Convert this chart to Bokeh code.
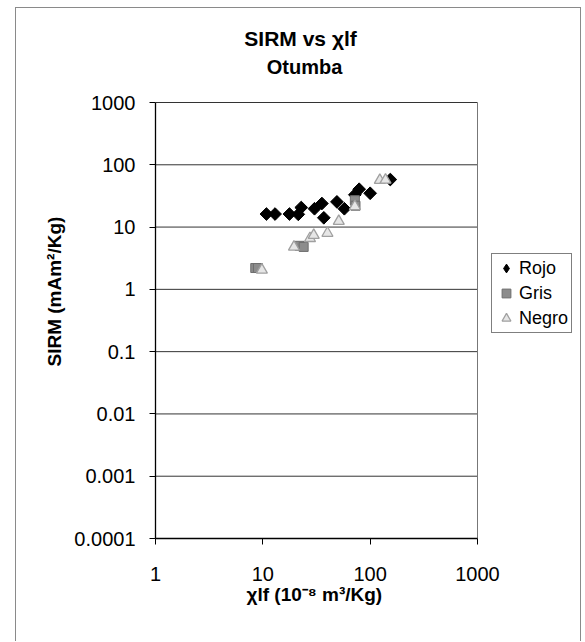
from bokeh.plotting import figure
from bokeh.models import FixedTicker, CustomJSTickFormatter, Legend, LegendItem, Title, Label, Range1d
from bokeh.embed import file_html
from bokeh.resources import INLINE
import math

# ---- data ----
rojo_x = [10.8, 13.0, 17.7, 21.4, 22.8, 30.3, 35.5, 37.0, 49.0, 57.5, 72.0, 79.0, 100.0, 154.0]
rojo_y = [16.2, 16.2, 16.2, 16.0, 20.6, 19.7, 23.9, 14.1, 25.4, 19.7, 33.0, 40.5, 34.9, 58.0]

gris_x = [8.5, 9.0, 22.0, 24.0, 72.0, 73.0]
gris_y = [2.2, 2.2, 5.0, 4.8, 27.0, 22.0]

negro_x = [9.8, 19.5, 27.5, 29.8, 40.0, 51.0, 72.0, 123.0, 139.0]
negro_y = [2.05, 4.8, 6.6, 7.4, 8.0, 12.4, 21.5, 56.5, 57.0]

x_ticks = [1, 10, 100, 1000]
y_ticks = [0.0001, 0.001, 0.01, 0.1, 1, 10, 100, 1000]

title_1 = "SIRM  vs χlf"
title_2 = "Otumba"
x_label = "χlf (10⁻⁸ m³/Kg)"
y_label = "SIRM (mAm²/Kg)"
series_names = ["Rojo", "Gris", "Negro"]

FONT = "Liberation Sans"

# layout (pixels): plot box 322 x 436, a 105 px strip on its right for the legend
# and a 94 px strip above it for the titles
PLOT_W, LEGEND_W = 322, 105
PLOT_H, TITLE_H = 436, 94
x_end = x_ticks[-1] * (x_ticks[-1] / x_ticks[0]) ** (LEGEND_W / PLOT_W)
y_end = y_ticks[-1] * (y_ticks[-1] / y_ticks[0]) ** (TITLE_H / PLOT_H)

p = figure(width=566, height=634, x_axis_type="log", y_axis_type="log",
           x_range=Range1d(x_ticks[0], x_end), y_range=Range1d(y_ticks[0], y_end),
           output_backend="svg", toolbar_location=None,
           min_border_left=139, min_border_right=0, min_border_top=0, min_border_bottom=104,
           margin=(7, 0, 0, 15),
           styles={"border-top": "1px solid #8a8a8a", "border-left": "1px solid #8a8a8a",
                   "border-right": "1px solid #8a8a8a"})
p.title = None
p.background_fill_color = "white"
p.border_fill_color = "white"
p.outline_line_color = None

fmt = CustomJSTickFormatter(code="return Number(tick.toPrecision(6)).toString();")
for ax, ticks in ((p.xaxis[0], x_ticks), (p.yaxis[0], y_ticks)):
    ax.ticker = FixedTicker(ticks=ticks)
    ax.bounds = (ticks[0], ticks[-1])
    ax.formatter = fmt
    ax.axis_line_color = "black"
    ax.axis_line_width = 1.3
    ax.major_tick_line_color = "black"
    ax.major_tick_out = 6
    ax.major_tick_in = 0
    ax.minor_tick_line_color = None
    ax.major_label_text_font = FONT
    ax.major_label_text_font_size = "20px"
    ax.major_label_text_color = "black"

p.xaxis.major_label_standoff = 22
p.yaxis.major_label_standoff = 14

p.xgrid.visible = False
p.ygrid.visible = False

# horizontal grid lines across the plot box and its right edge
n = len(y_ticks)
p.segment(x0=[x_ticks[0]] * n, y0=y_ticks, x1=[x_ticks[-1]] * n, y1=y_ticks,
          line_color="#333333", line_width=1)
p.segment(x0=[x_ticks[-1]], y0=[y_ticks[0]], x1=[x_ticks[-1]], y1=[y_ticks[-1]],
          line_color="#777777", line_width=1)

# diamonds: a diamond marker (also used as legend key) under 45-degree squares
r1_key = p.scatter(rojo_x, rojo_y, marker="diamond", size=11,
                   fill_color="black", line_color="black")
r1 = p.scatter(rojo_x, rojo_y, marker="square", size=9, angle=math.pi / 4,
               fill_color="black", line_color="black")
r2 = p.scatter(gris_x, gris_y, marker="square", size=9,
               fill_color="#8c8c8c", line_color="#6e6e6e")
r3 = p.scatter(negro_x, negro_y, marker="triangle", size=11,
               fill_color="#e6e6e6", line_color="#a0a0a0", line_width=1.3)

legend = Legend(items=[LegendItem(label=series_names[0], renderers=[r1_key]),
                       LegendItem(label=series_names[1], renderers=[r2]),
                       LegendItem(label=series_names[2], renderers=[r3])],
                location=(336, 205))
legend.label_text_font = FONT
legend.label_text_font_size = "18px"
legend.label_text_color = "black"
legend.border_line_color = "black"
legend.border_line_width = 1
legend.background_fill_color = "white"
legend.background_fill_alpha = 1
legend.padding = 3
legend.spacing = 3
legend.margin = 0
legend.glyph_width = 22
legend.glyph_height = 22
legend.label_height = 22
legend.label_standoff = 2
p.add_layout(legend)

# chart titles, placed in the strip above the plot box (pixels from its bottom-left)
t1 = Label(x=148, y=500, x_units="screen", y_units="screen", text=title_1,
           text_font=FONT, text_font_size="21px", text_font_style="bold",
           text_align="center", text_baseline="middle", text_color="black")
t2 = Label(x=149, y=472, x_units="screen", y_units="screen", text=title_2,
           text_font=FONT, text_font_size="20px", text_font_style="bold",
           text_align="center", text_baseline="middle", text_color="black")
p.add_layout(t1)
p.add_layout(t2)

# axis titles
xt = Title(text=x_label, align="left", offset=91, standoff=0, vertical_align="top",
           text_font=FONT, text_font_size="19px", text_font_style="bold", text_color="black")
yt = Title(text=y_label, align="left", offset=172, standoff=10, vertical_align="top",
           text_font=FONT, text_font_size="19px", text_font_style="bold", text_color="black")
p.add_layout(xt, "below")
p.add_layout(yt, "left")

open("out.html", "w").write(file_html(p, INLINE))
